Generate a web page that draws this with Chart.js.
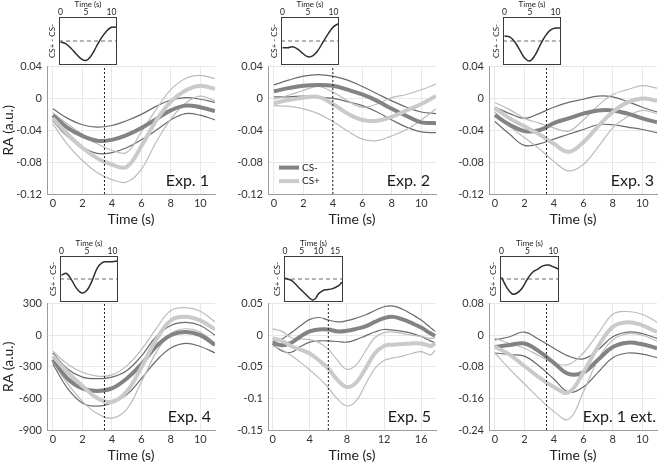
<!DOCTYPE html>
<html>
<head>
<meta charset="utf-8">
<script src="https://cdn.jsdelivr.net/npm/chart.js@4.4.1/dist/chart.umd.min.js"></script>
<style>
  body { margin: 0; background: #fff; }
  #fig { position: relative; width: 660px; height: 465px; overflow: hidden; }
  #fig canvas { position: absolute; }
</style>
</head>
<body>
<div id="fig"></div>
<script>
// ---- time axes ----
const t11 = [0, 1, 2, 3, 4, 5, 6, 7, 8, 9, 10, 11];
const t17 = [0, 1, 2, 3, 4, 5, 6, 7, 8, 9, 10, 11, 12, 13, 14, 15, 16, 17, 17.5];
const tInset5 = [0, 2, 4, 6, 8, 9, 10, 11, 12, 14, 16, 17];

// ---- Exp. 1 ----
const p1NegHi   = [-0.013, -0.025, -0.033, -0.036, -0.034, -0.028, -0.020, -0.010, -0.002, 0.001, -0.001, -0.005];
const p1NegMean = [-0.021, -0.037, -0.047, -0.053, -0.052, -0.046, -0.037, -0.026, -0.015, -0.009, -0.011, -0.016];
const p1NegLo   = [-0.028, -0.048, -0.061, -0.069, -0.068, -0.062, -0.052, -0.040, -0.027, -0.019, -0.021, -0.027];
const p1PosHi   = [-0.018, -0.032, -0.045, -0.057, -0.065, -0.068, -0.042, -0.014, 0.011, 0.025, 0.029, 0.025];
const p1PosMean = [-0.025, -0.045, -0.062, -0.075, -0.083, -0.086, -0.060, -0.028, -0.004, 0.010, 0.016, 0.012];
const p1PosLo   = [-0.032, -0.058, -0.078, -0.093, -0.102, -0.105, -0.089, -0.055, -0.026, -0.006, 0.003, -0.003];
const in1       = [-0.04, -0.11, -0.29, -0.52, -0.73, -0.81, -0.62, -0.25, 0.12, 0.40, 0.57, 0.57];

// ---- Exp. 2 ----
const p2NegHi   = [0.017, 0.023, 0.028, 0.030, 0.028, 0.023, 0.015, 0.006, -0.003, -0.011, -0.017, -0.019];
const p2NegMean = [0.009, 0.013, 0.016, 0.017, 0.016, 0.011, 0.005, -0.003, -0.013, -0.022, -0.030, -0.031];
const p2NegLo   = [0.002, 0.002, 0.003, 0.002, 0.000, -0.004, -0.009, -0.017, -0.027, -0.036, -0.042, -0.043];
const p2PosHi   = [-0.001, 0.004, 0.010, 0.015, 0.008, -0.003, -0.011, -0.007, 0.001, 0.005, 0.011, 0.018];
const p2PosMean = [-0.006, -0.002, 0.001, 0.002, -0.007, -0.019, -0.027, -0.028, -0.023, -0.015, -0.007, 0.003];
const p2PosLo   = [-0.009, -0.010, -0.013, -0.019, -0.029, -0.041, -0.051, -0.053, -0.047, -0.039, -0.027, -0.013];
const in2       = [-0.28, -0.28, -0.24, -0.34, -0.52, -0.66, -0.61, -0.38, -0.03, 0.31, 0.59, 0.72];

// ---- Exp. 3 ----
const p3NegHi   = [-0.011, -0.019, -0.025, -0.019, -0.011, -0.005, -0.001, 0.003, 0.002, -0.004, -0.011, -0.017];
const p3NegMean = [-0.021, -0.033, -0.041, -0.040, -0.031, -0.025, -0.019, -0.015, -0.015, -0.019, -0.025, -0.030];
const p3NegLo   = [-0.029, -0.045, -0.059, -0.057, -0.051, -0.045, -0.039, -0.033, -0.033, -0.036, -0.039, -0.043];
const p3PosHi   = [-0.005, -0.014, -0.025, -0.031, -0.037, -0.041, -0.027, -0.009, 0.005, 0.011, 0.016, 0.013];
const p3PosMean = [-0.012, -0.025, -0.035, -0.045, -0.057, -0.067, -0.055, -0.035, -0.017, -0.005, 0.000, -0.003];
const p3PosLo   = [-0.017, -0.035, -0.049, -0.063, -0.079, -0.091, -0.083, -0.061, -0.037, -0.023, -0.015, -0.019];
const in3       = [0.21, 0.17, -0.03, -0.38, -0.72, -0.83, -0.59, -0.17, 0.20, 0.45, 0.54, 0.54];

// ---- Exp. 4 ----
const p4NegHi   = [-168, -321, -398, -413, -398, -337, -199, -15, 92, 122, 92, 0];
const p4NegMean = [-230, -413, -505, -530, -505, -413, -276, -107, 0, 31, 0, -92];
const p4NegLo   = [-276, -505, -643, -674, -643, -566, -413, -245, -122, -77, -107, -168];
const p4PosHi   = [-153, -275, -352, -389, -377, -291, -138, 61, 235, 262, 228, 125];
const p4PosMean = [-199, -352, -481, -597, -634, -536, -306, -46, 140, 175, 140, 55];
const p4PosLo   = [-260, -459, -628, -744, -787, -704, -444, -168, 15, 61, 31, -77];
const in4       = [0.17, 0.24, -0.05, -0.42, -0.61, -0.49, -0.08, 0.46, 0.71, 0.75, 0.75, 0.78];

// ---- Exp. 5 ----
const p5NegHi   = [-0.010, -0.006, 0.004, 0.015, 0.025, 0.028, 0.024, 0.021, 0.023, 0.027, 0.032, 0.039, 0.045, 0.046, 0.041, 0.033, 0.024, 0.012, 0.006];
const p5NegMean = [-0.012, -0.016, -0.012, -0.002, 0.006, 0.009, 0.009, 0.006, 0.007, 0.010, 0.014, 0.021, 0.027, 0.029, 0.025, 0.019, 0.012, 0.003, -0.001];
const p5NegLo   = [-0.014, -0.025, -0.027, -0.018, -0.011, -0.009, -0.009, -0.010, -0.011, -0.007, -0.001, 0.005, 0.009, 0.008, 0.006, 0.003, -0.002, -0.009, -0.012];
const p5PosHi   = [0.010, 0.006, -0.004, -0.006, -0.007, -0.012, -0.022, -0.040, -0.054, -0.047, -0.025, -0.004, 0.004, 0.005, 0.003, 0.000, -0.002, -0.005, -0.004];
const p5PosMean = [-0.005, -0.009, -0.017, -0.023, -0.029, -0.040, -0.053, -0.071, -0.082, -0.075, -0.053, -0.029, -0.017, -0.015, -0.014, -0.013, -0.013, -0.017, -0.013];
const p5PosLo   = [-0.017, -0.023, -0.032, -0.043, -0.055, -0.068, -0.083, -0.101, -0.112, -0.104, -0.078, -0.053, -0.040, -0.036, -0.033, -0.029, -0.026, -0.031, -0.024];
const in5       = [0.03, -0.07, -0.36, -0.64, -0.90, -0.86, -0.64, -0.53, -0.47, -0.43, -0.29, -0.14];

// ---- Exp. 1 ext. ----
const p6NegHi   = [-0.012, -0.004, 0.008, -0.011, -0.033, -0.053, -0.060, -0.037, -0.004, 0.008, 0.004, -0.008];
const p6NegMean = [-0.030, -0.025, -0.021, -0.041, -0.070, -0.098, -0.094, -0.062, -0.030, -0.019, -0.023, -0.033];
const p6NegLo   = [-0.045, -0.049, -0.053, -0.078, -0.111, -0.144, -0.131, -0.094, -0.057, -0.045, -0.048, -0.057];
const p6PosHi   = [-0.008, -0.021, -0.033, -0.052, -0.070, -0.074, -0.045, 0.004, 0.053, 0.060, 0.053, 0.033];
const p6PosMean = [-0.029, -0.049, -0.078, -0.107, -0.131, -0.145, -0.094, -0.029, 0.021, 0.033, 0.025, 0.008];
const p6PosLo   = [-0.045, -0.086, -0.123, -0.160, -0.193, -0.213, -0.144, -0.062, -0.012, 0.004, 0.000, -0.015];
const in6       = [0.07, -0.36, -0.64, -0.61, -0.39, 0.00, 0.29, 0.43, 0.57, 0.61, 0.53, 0.43];

// ---- ticks / labels ----
const xTicks11 = [0, 2, 4, 6, 8, 10];
const xTicks17 = [0, 4, 8, 12, 16];
const insetTicks11 = [0, 5, 10];
const insetTicks17 = [0, 5, 10, 15];
const yTicksA = [-0.12, -0.08, -0.04, 0, 0.04];
const yLabelsA = ['-0.12', '-0.08', '-0.04', '0', '0.04'];
const yTicksB = [-900, -600, -300, 0, 300];
const yLabelsB = ['-900', '-600', '-300', '0', '300'];
const yTicksC = [-0.15, -0.1, -0.05, 0, 0.05];
const yLabelsC = ['-0.15', '-0.1', '-0.05', '0', '0.05'];
const yTicksD = [-0.24, -0.16, -0.08, 0, 0.08];
const yLabelsD = ['-0.24', '-0.16', '-0.08', '0', '0.08'];
const cueTimes = [3.5, 4, 3.5, 3.5, 6, 3.5];
const expNames = ['Exp. 1', 'Exp. 2', 'Exp. 3', 'Exp. 4', 'Exp. 5', 'Exp. 1 ext.'];
const legendNames = ['CS-', 'CS+'];

// ---- styling ----
Chart.defaults.font.family = 'Lato';
const NEG_THICK = '#838383', NEG_THIN = '#6b6b6b';
const POS_THICK = '#cacaca', POS_THIN = '#bcbcbc';
const fig = document.getElementById('fig');

function series(xs, ys, color, width) {
  return {
    data: xs.map((x, i) => ({ x: x, y: ys[i] })),
    borderColor: color, borderWidth: width, pointRadius: 0, fill: false,
    tension: 0.4
  };
}

function makeCanvas(left, top, w, h) {
  const cv = document.createElement('canvas');
  cv.width = w; cv.height = h;
  cv.style.left = left + 'px'; cv.style.top = top + 'px';
  cv.style.width = w + 'px'; cv.style.height = h + 'px';
  fig.appendChild(cv);
  return cv;
}

function mainChart(p, k) {
  const W = 47 + 168 + 5, H = 8 + p.h + 34;
  const cv = makeCanvas(p.left - 47, p.top - 8, W, H);
  const ymin = p.yTicks[0], ymax = p.yTicks[p.yTicks.length - 1];
  const cue = {
    data: [{ x: cueTimes[k], y: ymin }, { x: cueTimes[k], y: ymax }],
    borderColor: '#222', borderWidth: 1, borderDash: [2, 2], pointRadius: 0, tension: 0
  };
  const ds = [cue,
    series(p.xs, p.pos[1], POS_THICK, 4),
    series(p.xs, p.neg[1], NEG_THICK, 4),
    series(p.xs, p.pos[0], POS_THIN, 1.2),
    series(p.xs, p.pos[2], POS_THIN, 1.2),
    series(p.xs, p.neg[0], NEG_THIN, 1.2),
    series(p.xs, p.neg[2], NEG_THIN, 1.2)];

  new Chart(cv, {
    type: 'line',
    data: { datasets: ds },
    options: {
      responsive: false, animation: false,
      layout: { padding: { top: 8, right: 5, left: 0, bottom: 0 } },
      plugins: { legend: { display: false }, tooltip: { enabled: false } },
      scales: {
        x: {
          type: 'linear', min: p.xmin, max: p.xmax,
          afterBuildTicks: s => { s.ticks = p.xTicks.map(v => ({ value: v })); },
          afterFit: s => { s.height = 34; },
          grid: { color: '#e8e8e8', drawTicks: false },
          border: { color: '#9c9c9c' },
          ticks: { padding: 3, color: '#333', font: { size: 11 }, maxRotation: 0, autoSkip: false },
          title: { display: true, text: 'Time (s)', color: '#222', font: { size: 14 }, padding: 0 }
        },
        y: {
          type: 'linear', min: ymin, max: ymax,
          afterBuildTicks: s => { s.ticks = p.yTicks.map(v => ({ value: v })); },
          afterFit: s => { s.width = 47; },
          grid: { color: '#e8e8e8', drawTicks: false },
          border: { color: '#9c9c9c' },
          ticks: { padding: 5, color: '#333', font: { size: 11 }, callback: (v, i) => p.yLabels[i] },
          title: { display: !!p.yTitle, text: 'RA (a.u.)', color: '#222', font: { size: 14 }, padding: 0 }
        }
      }
    },
    plugins: [{
      id: 'expText',
      afterDatasetsDraw(chart) {
        const { ctx, chartArea: a } = chart;
        ctx.save();
        ctx.font = '16px Lato';
        ctx.fillStyle = '#1a1a1a';
        ctx.textAlign = 'right';
        ctx.fillText(expNames[k], a.right - p.labelPad, a.bottom - 8);
        if (p.legend) {
          const cols = [NEG_THICK, POS_THICK];
          ctx.font = '10px Lato';
          ctx.textAlign = 'left';
          ctx.textBaseline = 'middle';
          cols.forEach((c, i) => {
            const y = a.top + 101 + i * 13.5;
            ctx.strokeStyle = c; ctx.lineWidth = 4;
            ctx.beginPath(); ctx.moveTo(a.left + 11, y); ctx.lineTo(a.left + 31, y); ctx.stroke();
            ctx.fillStyle = '#222';
            ctx.fillText(legendNames[i], a.left + 34, y);
          });
        }
        ctx.restore();
      }
    }]
  });
}

function insetChart(q) {
  const W = 16 + q.w + 8, H = 17 + q.h + 4;
  const cv = makeCanvas(q.left - 16, q.top - 17, W, H);
  const zero = {
    data: [{ x: q.xmin, y: 0 }, { x: q.xmax, y: 0 }],
    borderColor: '#6a6a6a', borderWidth: 1, borderDash: [4, 3], pointRadius: 0, tension: 0
  };
  new Chart(cv, {
    type: 'line',
    data: { datasets: [series(q.xs, q.ys, '#2e2e2e', 1.5), zero] },
    options: {
      responsive: false, animation: false,
      layout: { padding: { top: 0, right: 8, left: 0, bottom: 4 } },
      plugins: { legend: { display: false }, tooltip: { enabled: false } },
      scales: {
        x: {
          type: 'linear', position: 'top', min: q.xmin, max: q.xmax,
          afterBuildTicks: s => { s.ticks = q.xTicks.map(v => ({ value: v })); },
          afterFit: s => { s.height = 17; },
          grid: { display: false, drawTicks: false },
          border: { display: false },
          ticks: { padding: 0, color: '#222', font: { size: 8.5 }, maxRotation: 0, autoSkip: false },
          title: { display: true, text: 'Time (s)', color: '#222', font: { size: 8 }, padding: 0 }
        },
        y: {
          type: 'linear', min: -1, max: 1,
          afterFit: s => { s.width = 16; },
          grid: { display: false, drawTicks: false },
          border: { display: false },
          ticks: { display: false },
          title: { display: true, text: 'CS+ - CS-', color: '#222', font: { size: 8 }, padding: 5 }
        }
      }
    },
    plugins: [{
      id: 'box',
      beforeDatasetsDraw(chart) {
        const { ctx, chartArea: a } = chart;
        ctx.save();
        ctx.fillStyle = '#fff';
        ctx.fillRect(a.left, a.top, a.width, a.height);
        ctx.restore();
      },
      afterDatasetsDraw(chart) {
        const { ctx, chartArea: a } = chart;
        ctx.save();
        ctx.strokeStyle = '#3a3a3a'; ctx.lineWidth = 1;
        ctx.strokeRect(a.left + 0.5, a.top + 0.5, a.width - 1, a.height - 1);
        ctx.restore();
      }
    }]
  });
}

const panels = [
  { left: 47, top: 63, h: 131, xs: t11, xmin: -0.4, xmax: 11, xTicks: xTicks11, yTicks: yTicksA, yLabels: yLabelsA,
    neg: [p1NegHi, p1NegMean, p1NegLo], pos: [p1PosHi, p1PosMean, p1PosLo], yTitle: true, labelPad: 6 },
  { left: 268, top: 63, h: 131, xs: t11, xmin: -0.4, xmax: 11, xTicks: xTicks11, yTicks: yTicksA, yLabels: yLabelsA,
    neg: [p2NegHi, p2NegMean, p2NegLo], pos: [p2PosHi, p2PosMean, p2PosLo], legend: true, labelPad: 6 },
  { left: 489, top: 63, h: 131, xs: t11, xmin: -0.4, xmax: 11, xTicks: xTicks11, yTicks: yTicksA, yLabels: yLabelsA,
    neg: [p3NegHi, p3NegMean, p3NegLo], pos: [p3PosHi, p3PosMean, p3PosLo], labelPad: 3 },
  { left: 47, top: 300, h: 130, xs: t11, xmin: -0.4, xmax: 11, xTicks: xTicks11, yTicks: yTicksB, yLabels: yLabelsB,
    neg: [p4NegHi, p4NegMean, p4NegLo], pos: [p4PosHi, p4PosMean, p4PosLo], yTitle: true, labelPad: 4 },
  { left: 268, top: 300, h: 130, xs: t17, xmin: -0.5, xmax: 17.6, xTicks: xTicks17, yTicks: yTicksC, yLabels: yLabelsC,
    neg: [p5NegHi, p5NegMean, p5NegLo], pos: [p5PosHi, p5PosMean, p5PosLo], labelPad: 5 },
  { left: 489, top: 300, h: 130, xs: t11, xmin: -0.4, xmax: 11, xTicks: xTicks11, yTicks: yTicksD, yLabels: yLabelsD,
    neg: [p6NegHi, p6NegMean, p6NegLo], pos: [p6PosHi, p6PosMean, p6PosLo], labelPad: 1 }
];

const insets = [
  { left: 59, top: 17, w: 58, h: 48, xs: t11, ys: in1, xmin: -0.3, xmax: 11.1, xTicks: insetTicks11 },
  { left: 281, top: 17, w: 58, h: 48, xs: t11, ys: in2, xmin: -0.3, xmax: 11.1, xTicks: insetTicks11 },
  { left: 503, top: 17, w: 58, h: 48, xs: t11, ys: in3, xmin: -0.3, xmax: 11.1, xTicks: insetTicks11 },
  { left: 60, top: 256, w: 58, h: 46, xs: t11, ys: in4, xmin: -0.3, xmax: 11.1, xTicks: insetTicks11 },
  { left: 284, top: 256, w: 59, h: 46, xs: tInset5, ys: in5, xmin: -0.3, xmax: 17.3, xTicks: insetTicks17 },
  { left: 500, top: 256, w: 59, h: 46, xs: t11, ys: in6, xmin: -0.3, xmax: 11.1, xTicks: insetTicks11 }
];

panels.forEach(mainChart);
insets.forEach(insetChart);
</script>
</body>
</html>
